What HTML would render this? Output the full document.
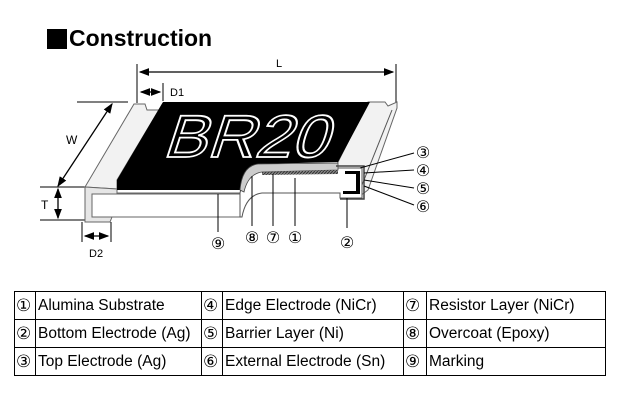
<!DOCTYPE html>
<html><head><meta charset="utf-8"><style>
body{margin:0;width:640px;height:414px;background:#fff;overflow:hidden;font-family:"Liberation Sans",Arial,sans-serif;position:relative}
.title{position:absolute;left:47px;top:24px;font-size:23px;font-weight:bold;color:#000;line-height:28px}
.title span{display:inline-block;width:20px;height:20px;background:#000;vertical-align:-3px;margin-right:2px}
table{position:absolute;left:14px;top:291px;border-collapse:collapse;font-size:15.5px;table-layout:fixed;width:591px}
td{border:1px solid #000;height:27px;padding:0 0 0 2px;white-space:nowrap;overflow:hidden}
td.n{padding:0 0 0 1px;font-family:"DejaVu Sans",sans-serif;font-size:17px}
</style></head><body>
<div class="title"><span></span>Construction</div>
<svg width="640" height="280" style="position:absolute;left:0;top:0" font-family="Liberation Sans,Arial,sans-serif">
<defs><marker id="a" markerWidth="8" markerHeight="8" refX="7" refY="4" orient="auto-start-reverse"><path d="M0,1 L8,4 L0,7 z" fill="#000"/></marker>
<pattern id="h" width="3" height="3" patternUnits="userSpaceOnUse"><rect width="3" height="3" fill="#888"/><path d="M0,3 L3,0" stroke="#333" stroke-width="1"/></pattern></defs>
<g stroke="#000" stroke-width="1" fill="none">
<line x1="137" y1="64" x2="137" y2="103"/><line x1="396" y1="64" x2="396" y2="103"/>
<line x1="140" y1="72" x2="393" y2="72" marker-start="url(#a)" marker-end="url(#a)" stroke-width="1.3"/>
<line x1="163" y1="83" x2="163" y2="101"/>
<line x1="141" y1="92" x2="160" y2="92" marker-start="url(#a)" marker-end="url(#a)" stroke-width="1.3"/>
<line x1="77" y1="102" x2="128" y2="102"/>
<line x1="112" y1="104" x2="58" y2="186" marker-start="url(#a)" marker-end="url(#a)" stroke-width="1.3"/>
<line x1="40" y1="187" x2="85" y2="187"/><line x1="40" y1="220" x2="85" y2="220"/>
<line x1="58" y1="189" x2="58" y2="218" marker-start="url(#a)" marker-end="url(#a)" stroke-width="1.3"/>
<line x1="82" y1="222" x2="82" y2="242"/><line x1="111" y1="222" x2="111" y2="242"/>
<line x1="85" y1="236" x2="108" y2="236" marker-start="url(#a)" marker-end="url(#a)" stroke-width="1.3"/>
</g>
<g stroke="#666" stroke-width="1">
<polygon points="134,104 145,104 147,110 160,110 163,103 117,180 117,189 85,187" fill="#f2f2f2"/>
<polygon points="85,187 117,189 117,193 240,193 240,217 112,217 110,222 85,222" fill="#e6e6e6"/>
<rect x="92" y="194" width="148" height="23" fill="#fff"/>
<polygon points="368,102 385,102 388,106 397,102 397,108 368,190 360,196 335,168" fill="#f2f2f2"/>
<line x1="392" y1="110" x2="362" y2="185" stroke="#555"/>
</g>
<path d="M163,102 L370,102 L338,162 L258,164 Q242,168 240,190 L117,190 L117,180 Z" fill="#000"/>
<path d="M240,193 Q244,172 262,171 L336,168 L362,168 L362,198 L340,198 L340,193 L262,193 Q246,195 242,217 L240,217 Z" fill="#fff" stroke="#555"/>
<path d="M240,190 Q242,166 258,164 L338,163 L338,170 L262,172 Q248,174 244,192 Z" fill="#ccc" stroke="#444" stroke-width="0.8"/>
<path d="M262,172 L338,170 L338,174 L262,175 Z" fill="url(#h)"/>
<rect x="345" y="171" width="14" height="3" fill="#000"/>
<path d="M356,171 L360,171 L360,194 L343,194 L343,191 L356,191 Z" fill="#000"/>
<path d="M336,166 L364,166 L364,199 L340,199" fill="none" stroke="#444" stroke-width="1.5"/>
<text transform="translate(162,157) skewX(-18)" font-size="60" textLength="165" lengthAdjust="spacingAndGlyphs" fill="none" stroke="#fff" stroke-width="1.8">BR20</text>
<g fill="#000" font-size="11"><text x="170" y="96">D1</text><text x="276" y="67">L</text><text x="66" y="144" font-size="12">W</text><text x="41" y="209" font-size="12">T</text><text x="89" y="257">D2</text></g>
<g stroke="#000" stroke-width="1">
<line x1="218" y1="194" x2="218" y2="232"/><line x1="252" y1="176" x2="252" y2="226"/><line x1="273" y1="174" x2="273" y2="226"/><line x1="295" y1="178" x2="295" y2="226"/><line x1="347" y1="198" x2="347" y2="228"/>
<line x1="360" y1="168" x2="414" y2="153"/><line x1="364" y1="173" x2="414" y2="170"/><line x1="364" y1="180" x2="414" y2="188"/><line x1="364" y1="186" x2="414" y2="205"/>
</g>
<g font-family="DejaVu Sans,sans-serif" font-size="16" fill="#000" text-anchor="middle">
<text x="218" y="249">⑨</text><text x="252" y="243">⑧</text><text x="273" y="243">⑦</text><text x="295" y="243">①</text><text x="347" y="248">②</text>
<text x="423" y="158">③</text><text x="423" y="176">④</text><text x="423" y="194">⑤</text><text x="423" y="212">⑥</text>
</g>
</svg>
<table>
<colgroup><col style="width:21px"><col style="width:166px"><col style="width:21px"><col style="width:181px"><col style="width:23px"><col style="width:179px"></colgroup>
<tr><td class="n">①</td><td>Alumina Substrate</td><td class="n">④</td><td>Edge Electrode (NiCr)</td><td class="n">⑦</td><td>Resistor Layer (NiCr)</td></tr>
<tr><td class="n">②</td><td>Bottom Electrode (Ag)</td><td class="n">⑤</td><td>Barrier Layer (Ni)</td><td class="n">⑧</td><td>Overcoat (Epoxy)</td></tr>
<tr><td class="n">③</td><td>Top Electrode (Ag)</td><td class="n">⑥</td><td>External Electrode (Sn)</td><td class="n">⑨</td><td>Marking</td></tr>
</table>
</body></html>
